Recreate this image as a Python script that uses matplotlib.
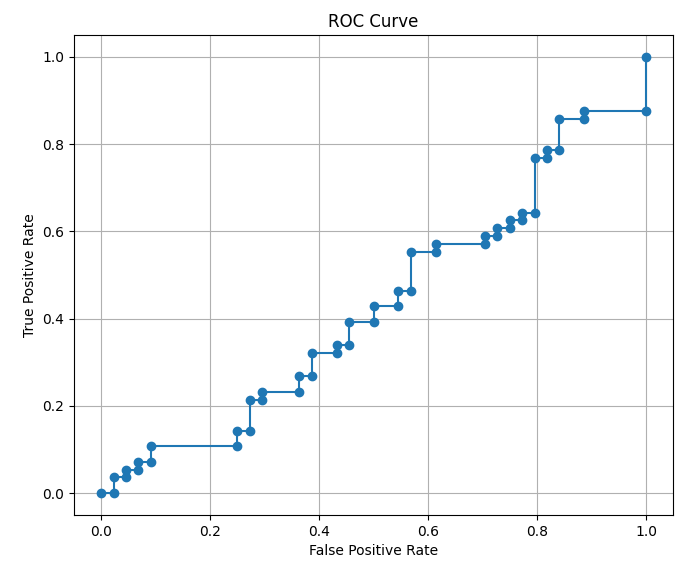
import matplotlib
matplotlib.use("Agg")
import matplotlib.pyplot as plt

fpr = [0/44, 1/44, 1/44, 2/44, 2/44, 3/44, 3/44, 4/44, 4/44, 11/44, 11/44, 12/44, 12/44,
       13/44, 13/44, 16/44, 16/44, 17/44, 17/44, 19/44, 19/44, 20/44, 20/44, 22/44, 22/44,
       24/44, 24/44, 25/44, 25/44, 27/44, 27/44, 31/44, 31/44, 32/44, 32/44, 33/44, 33/44,
       34/44, 34/44, 35/44, 35/44, 36/44, 36/44, 37/44, 37/44, 39/44, 39/44, 44/44, 44/44]
tpr = [0/56, 0/56, 2/56, 2/56, 3/56, 3/56, 4/56, 4/56, 6/56, 6/56, 8/56, 8/56, 12/56,
       12/56, 13/56, 13/56, 15/56, 15/56, 18/56, 18/56, 19/56, 19/56, 22/56, 22/56, 24/56,
       24/56, 26/56, 26/56, 31/56, 31/56, 32/56, 32/56, 33/56, 33/56, 34/56, 34/56, 35/56,
       35/56, 36/56, 36/56, 43/56, 43/56, 44/56, 44/56, 48/56, 48/56, 49/56, 49/56, 56/56]

fig = plt.figure(figsize=(6.92, 5.67), dpi=100)
ax = fig.add_axes([0.107, 0.092, 0.866, 0.846])
ax.plot(fpr, tpr, marker='o', color='#1f77b4')
ax.set_title('ROC Curve')
ax.set_xlabel('False Positive Rate')
ax.set_ylabel('True Positive Rate')
ax.grid(True)
fig.savefig('out.png', dpi=100)
